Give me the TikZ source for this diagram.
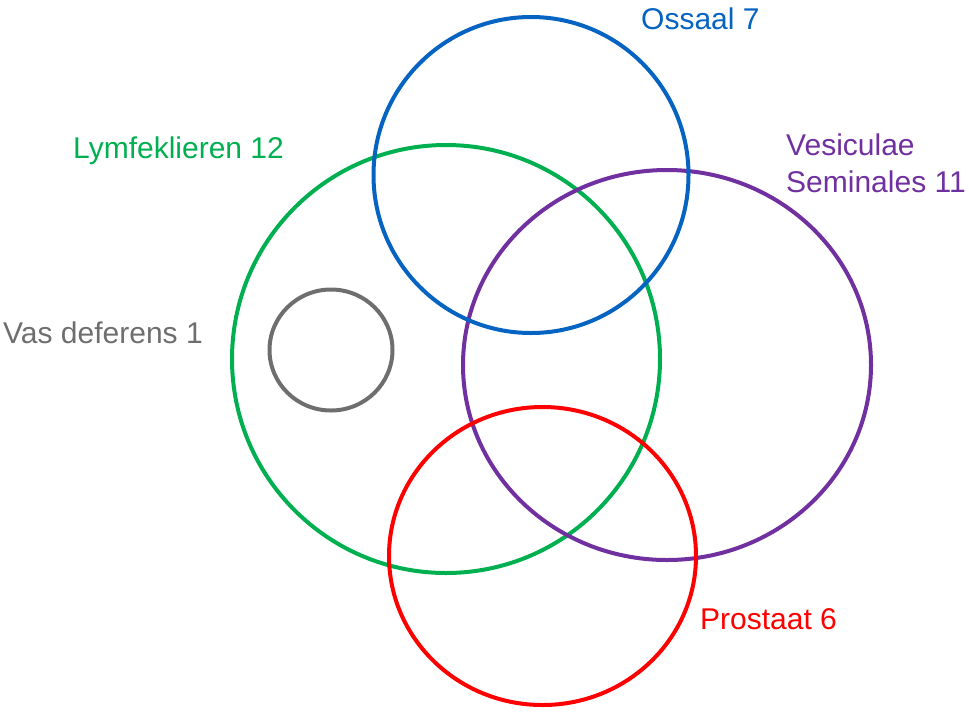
\documentclass[tikz,border=0pt]{standalone}
\usepackage{fontspec}
\setmainfont{Liberation Sans}
\usetikzlibrary{shapes.geometric}
\definecolor{cblue}{HTML}{0563C1}
\definecolor{cgreen}{HTML}{00B050}
\definecolor{cpurple}{HTML}{7030A0}
\definecolor{cred}{HTML}{FF0000}
\definecolor{cgray}{HTML}{6E6E6E}
\begin{document}
\begin{tikzpicture}[x=1pt,y=-1pt,
  ring/.style={draw, line width=4pt, ellipse, inner sep=0pt, fill=none},
  lbl/.style={anchor=base west, inner sep=0pt, font=\fontsize{30}{37}\selectfont}]
\useasboundingbox (0,0) rectangle (969,713);
\node[ring, cgreen, minimum width=428pt, minimum height=428pt] (green) at (446,359) {};
\node[ring, cpurple, minimum width=408pt, minimum height=390pt] (purple) at (667,365) {};
\node[ring, cblue, minimum width=315pt, minimum height=316pt] (blue) at (531,175) {};
\node[ring, cred, minimum width=307pt, minimum height=298pt] (red) at (542.5,556) {};
\node[ring, cgray, minimum width=123pt, minimum height=121pt] (gray) at (331,350) {};
\node[lbl, text=cblue] (lblue) at (641,29) {Ossaal 7};
\node[lbl, text=cgreen] (lgreen) at (73,158) {Lymfeklieren 12};
\node[lbl, text=cpurple, align=left] (lpurple) at (786,192) {Vesiculae\\Seminales 11};
\node[lbl, text=cgray] (lgray) at (3,343) {Vas deferens 1};
\node[lbl, text=cred] (lred) at (700,629) {Prostaat 6};
\end{tikzpicture}
\end{document}
